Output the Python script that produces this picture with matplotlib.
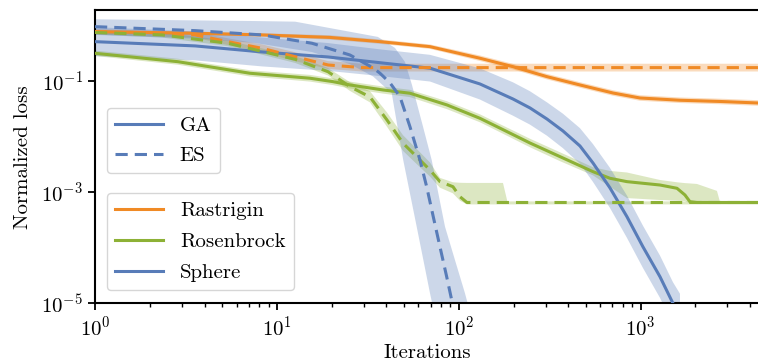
import matplotlib
matplotlib.use("Agg")
import matplotlib.pyplot as plt
from matplotlib.lines import Line2D
from matplotlib.ticker import FixedLocator, NullLocator
import numpy as np

plt.rcParams["font.family"] = "serif"
plt.rcParams["font.serif"] = ["cmr10", "DejaVu Serif"]
plt.rcParams["mathtext.fontset"] = "cm"
plt.rcParams["axes.formatter.use_mathtext"] = True

# ---- data: normalized loss vs iterations (mean with spread band) ----
rastrigin_ga_x = [1, 3.55, 8.28, 19.6, 36.9, 69.5, 130.8, 198.6, 305.4, 463.8, 704, 991, 1645, 2729, 4415]
rastrigin_ga_y = [0.767, 0.718, 0.670, 0.604, 0.507, 0.412, 0.255, 0.180, 0.119, 0.0844, 0.0605, 0.0492, 0.0448, 0.0426, 0.040]
rastrigin_ga_spread = [0.03, 0.03, 0.03, 0.04, 0.04, 0.04, 0.05, 0.05, 0.05, 0.05, 0.05, 0.05, 0.05, 0.05, 0.05]

rastrigin_es_x = [1, 3.55, 5.38, 8.28, 12.6, 19.1, 29.4, 4415]
rastrigin_es_y = [0.767, 0.670, 0.507, 0.385, 0.272, 0.193, 0.173, 0.173]
rastrigin_es_spread = [0.05, 0.05, 0.06, 0.07, 0.08, 0.07, 0.07, 0.07]

rosenbrock_ga_x = [1, 2.86, 7.11, 15.2, 20.3, 25.2, 38.3, 53.9, 86.1, 130.8, 162.2, 246.3, 360.1,
                   546.7, 678, 840.7, 1277, 1584, 1752, 1866, 2039, 2627, 2729, 4415]
rosenbrock_ga_y = [0.313, 0.221, 0.137, 0.1115, 0.0969, 0.0844, 0.0686, 0.0599, 0.0369, 0.0212, 0.0150,
                   0.00763, 0.00434, 0.00233, 0.00177, 0.00154, 0.00134, 0.00117, 8.87e-4, 6.72e-4,
                   6.5e-4, 6.5e-4, 6.5e-4, 6.5e-4]
rosenbrock_ga_lo = [0.28, 0.195, 0.12, 0.097, 0.084, 0.073, 0.059, 0.051, 0.031, 0.018, 0.0127, 0.0064,
                    0.0036, 0.0020, 0.00125, 7.8e-4, 7.2e-4, 7.0e-4, 6.9e-4, 6.3e-4, 6.2e-4, 6.2e-4,
                    6.2e-4, 6.2e-4]
rosenbrock_ga_hi = [0.35, 0.25, 0.155, 0.128, 0.111, 0.097, 0.079, 0.069, 0.043, 0.025, 0.0177, 0.0091,
                    0.0052, 0.0028, 0.0024, 0.00225, 0.00165, 0.0015, 0.00145, 0.00143, 0.0014, 0.00105,
                    6.7e-4, 6.7e-4]

rosenbrock_es_x = [1, 2.34, 5.38, 12.6, 19.1, 25.2, 32.5, 40.3, 49.4, 61.2, 69.5, 78.8, 92.9, 101.5,
                   110.9, 175, 185, 4415]
rosenbrock_es_y = [0.742, 0.670, 0.474, 0.244, 0.146, 0.0787, 0.0513, 0.0198, 0.00755, 0.00377, 0.00249,
                   0.00154, 0.00125, 8.26e-4, 6.5e-4, 6.5e-4, 6.5e-4, 6.5e-4]
rosenbrock_es_lo = [0.68, 0.6, 0.42, 0.21, 0.125, 0.066, 0.041, 0.015, 0.0055, 0.0028, 0.0019, 0.0012,
                    9.5e-4, 7.0e-4, 6.0e-4, 6.0e-4, 6.0e-4, 6.0e-4]
rosenbrock_es_hi = [0.8, 0.74, 0.53, 0.28, 0.17, 0.095, 0.065, 0.027, 0.0105, 0.0052, 0.0034, 0.0018,
                    0.0015, 0.00147, 0.00146, 0.00146, 6.8e-4, 6.8e-4]

sphere_ga_x = [1, 3.55, 8.28, 19.1, 36.9, 69.5, 130.8, 198.6, 246.3, 305.4, 374, 463.8, 546.7, 678,
               840.7, 1029, 1277, 1505, 1645]
sphere_ga_y = [0.507, 0.425, 0.331, 0.269, 0.212, 0.169, 0.0879, 0.0472, 0.0326, 0.0206, 0.01256,
               0.00675, 0.00334, 0.00119, 3.61e-4, 1.04e-4, 3.01e-5, 1.0e-5, 6.2e-6]
sphere_ga_spread = [0.26, 0.26, 0.26, 0.25, 0.24, 0.24, 0.28, 0.3, 0.3, 0.3, 0.31, 0.32, 0.34, 0.36,
                    0.38, 0.38, 0.38, 0.38, 0.38]

sphere_es_x = [1, 3.55, 8.28, 15.6, 25.2, 33.8, 36.9, 41.9, 47.5, 53.9, 61.2, 66.6, 72.4, 78.8, 85.8,
               91.4, 92.9]
sphere_es_y = [0.944, 0.80, 0.670, 0.474, 0.292, 0.171, 0.137, 0.0917, 0.052, 0.0150, 0.00377, 0.00125,
               3.61e-4, 1.04e-4, 3.01e-5, 1.15e-5, 8.9e-6]
# band edges of the ES sphere runs (fast and slow envelope)
sphere_es_lo_x = [1, 3.78, 7.58, 15.6, 25.2, 33.8, 42.8, 49.5, 58.7, 69.5, 73.1]
sphere_es_lo_y = [0.67, 0.57, 0.48, 0.33, 0.2, 0.12, 0.06, 0.00377, 2.39e-4, 1.51e-5, 7e-6]
sphere_es_hi_x = [1, 3.78, 7.58, 12.6, 35.9, 44.6, 50.6, 55.3, 63.6, 71.0, 77.2, 84.0, 95.3, 108.2, 115.2]
sphere_es_hi_y = [1.28, 1.22, 1.19, 1.16, 0.617, 0.391, 0.219, 0.0844, 0.0150, 0.00377, 9.5e-4, 2.39e-4,
                  6.0e-5, 1.51e-5, 7e-6]

functions = ["Rastrigin", "Rosenbrock", "Sphere"]
methods = ["GA", "ES"]
y_ticks = [1e-5, 1e-3, 1e-1]

C_ORANGE = "#F08A25"
C_GREEN = "#8DB136"
C_BLUE = "#587CB8"
LW = 2.2
DASH = (4, 2.3)

fig = plt.figure(figsize=(7.58, 3.63), dpi=100)
ax = fig.add_axes([0.12533, 0.16446, 0.8766, 0.808])


def band_xy(x_lo, y_lo, x_hi, y_hi, color):
    px = list(x_hi) + list(x_lo)[::-1]
    py = list(y_hi) + list(y_lo)[::-1]
    ax.fill(px, py, color=color, alpha=0.3, lw=0, zorder=1)


def spread_band(y, s):
    y = np.asarray(y)
    s = np.asarray(s)
    return y / 10 ** s, y * 10 ** s


# bands
lo, hi = spread_band(rastrigin_ga_y, rastrigin_ga_spread)
band_xy(rastrigin_ga_x, lo, rastrigin_ga_x, hi, C_ORANGE)
lo, hi = spread_band(rastrigin_es_y, rastrigin_es_spread)
band_xy(rastrigin_es_x, lo, rastrigin_es_x, hi, C_ORANGE)
band_xy(rosenbrock_ga_x, rosenbrock_ga_lo, rosenbrock_ga_x, rosenbrock_ga_hi, C_GREEN)
band_xy(rosenbrock_es_x, rosenbrock_es_lo, rosenbrock_es_x, rosenbrock_es_hi, C_GREEN)
lo, hi = spread_band(sphere_ga_y, sphere_ga_spread)
band_xy(sphere_ga_x, lo, sphere_ga_x, hi, C_BLUE)
band_xy(sphere_es_lo_x, sphere_es_lo_y, sphere_es_hi_x, sphere_es_hi_y, C_BLUE)

# mean curves
ax.plot(rastrigin_ga_x, rastrigin_ga_y, color=C_ORANGE, lw=LW, zorder=3)
ax.plot(rosenbrock_ga_x, rosenbrock_ga_y, color=C_GREEN, lw=LW, zorder=3)
ax.plot(sphere_ga_x, sphere_ga_y, color=C_BLUE, lw=LW, zorder=3)
ax.plot(rastrigin_es_x, rastrigin_es_y, color=C_ORANGE, lw=LW, dashes=DASH, zorder=3)
ax.plot(rosenbrock_es_x, rosenbrock_es_y, color=C_GREEN, lw=LW, dashes=DASH, zorder=3)
ax.plot(sphere_es_x, sphere_es_y, color=C_BLUE, lw=LW, dashes=DASH, zorder=3)

ax.set_xscale("log")
ax.set_yscale("log")
ax.set_xlim(1, 4500)
ax.set_ylim(1e-5, 1.88)
ax.yaxis.set_major_locator(FixedLocator(y_ticks))
ax.yaxis.set_minor_locator(NullLocator())

ax.spines["right"].set_visible(False)
for s in ["left", "bottom", "top"]:
    ax.spines[s].set_linewidth(1.5)
ax.tick_params(axis="both", which="major", labelsize=15, length=5, width=1.3)
ax.tick_params(axis="x", which="minor", length=3, width=1.0)

ax.set_xlabel("Iterations", fontsize=15, labelpad=3)
ax.set_ylabel("Normalized loss", fontsize=15, labelpad=7)

method_handles = [Line2D([], [], color=C_BLUE, lw=LW),
                  Line2D([], [], color=C_BLUE, lw=LW, dashes=DASH)]
leg1 = ax.legend(method_handles, methods, loc="upper left", bbox_to_anchor=(0.018, 0.666),
                 borderaxespad=0, fontsize=15, handlelength=2.3, labelspacing=0.55, frameon=True)
ax.add_artist(leg1)
func_handles = [Line2D([], [], color=c, lw=LW) for c in (C_ORANGE, C_GREEN, C_BLUE)]
ax.legend(func_handles, functions, loc="upper left", bbox_to_anchor=(0.018, 0.376),
          borderaxespad=0, fontsize=15, handlelength=2.3, labelspacing=0.6, frameon=True)

fig.savefig("out.png", dpi=100)
